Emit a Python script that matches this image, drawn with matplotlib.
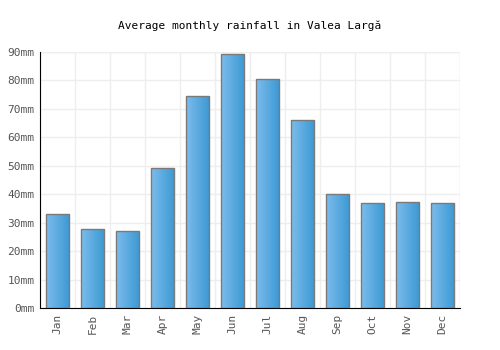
import numpy as np
import matplotlib
matplotlib.use("Agg")
import matplotlib.pyplot as plt
from matplotlib.colors import LinearSegmentedColormap

months = ["Jan", "Feb", "Mar", "Apr", "May", "Jun", "Jul", "Aug", "Sep", "Oct", "Nov", "Dec"]
rainfall = [33.0, 27.8, 27.1, 49.2, 74.5, 89.3, 80.5, 66.1, 40.1, 36.9, 37.3, 36.9]
yticks = [0, 10, 20, 30, 40, 50, 60, 70, 80, 90]
title = "Average monthly rainfall in Valea Largă"

fig = plt.figure(figsize=(5, 3.5), dpi=100)
ax = fig.add_axes([0.08, 0.12, 0.84, 0.7314])
x = np.arange(len(months))
ax.set_xlim(-0.5, len(months) - 0.5)
ax.set_ylim(0, 90)

cmap = LinearSegmentedColormap.from_list("g", ["#7cbcec", "#3b99d3"])
grad = np.linspace(0, 1, 64).reshape(1, -1)
width = 0.68
bars = ax.bar(x, rainfall, width=width, color="none", edgecolor="#7a7a7a", linewidth=1.0, zorder=3)
for b in bars:
    x0, y0 = b.get_x(), b.get_y()
    im = ax.imshow(grad, cmap=cmap, aspect="auto", extent=(x0, x0 + b.get_width(), y0, y0 + b.get_height()),
                   zorder=2.5, interpolation="bilinear")
    im.set_clip_path(b)
ax.set_xlim(-0.5, len(months) - 0.5)
ax.set_ylim(0, 90)

ax.set_yticks(yticks)
ax.set_yticklabels([f"{v}mm" for v in yticks])
ax.set_xticks(x)
ax.set_xticklabels(months, rotation=90)
ax.set_xticks(np.arange(-0.5, len(months) + 0.5, 1), minor=True)
ax.grid(False)
ax.yaxis.grid(True, color="#eeeeee", linewidth=1, zorder=0)
ax.xaxis.grid(True, which="minor", color="#eeeeee", linewidth=1, zorder=0)
ax.set_axisbelow(True)
ax.axvline(len(months) - 0.5, color="#eeeeee", linewidth=1, zorder=0)
ax.axhline(90, color="#eeeeee", linewidth=1, zorder=0)

for s in ["top", "right"]:
    ax.spines[s].set_visible(False)
ax.spines["left"].set_color("black")
ax.spines["bottom"].set_color("black")
ax.tick_params(axis="both", which="both", length=0, labelsize=8, colors="#555555", pad=4)
for lab in ax.get_xticklabels() + ax.get_yticklabels():
    lab.set_family("DejaVu Sans Mono")

fig.text(0.5, 1 - 26 / 350, title, ha="center", va="center", fontsize=8, family="DejaVu Sans Mono", color="black")
fig.savefig("out.png", dpi=100)
